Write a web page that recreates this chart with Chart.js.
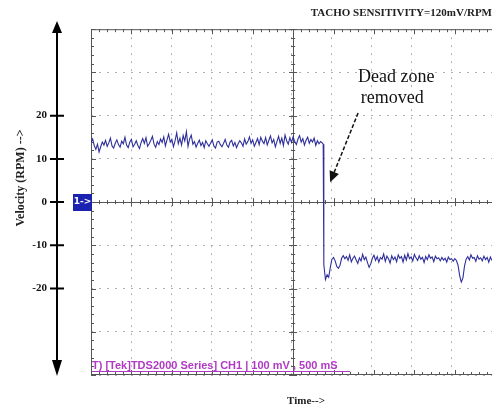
<!doctype html>
<html>

<head>
    <meta charset="UTF-8">
    <title>Tacho velocity</title>
    <script src="https://cdn.jsdelivr.net/npm/chart.js"></script>
    <style>
        body {
            margin: 0;
            background-color: #ffffff;
            overflow: hidden;
        }
    </style>
</head>

<body>
    <canvas id="tacho" width="492" height="411"></canvas>

    <script>
        var passoMs = 20;
        var inicioAlto = 0;
        var inicioBaixo = 2880;

        // velocidade antes da inversao (RPM)
        var rpmAlto = [
            13.8, 14.6, 13.1, 12.2, 13.4, 11.6, 12.8, 13.9, 13.2, 14.3, 12.9, 13.7, 14.8, 13.0, 12.5, 13.6,
            14.4, 13.3, 12.7, 14.1, 13.5, 15.0, 13.2, 12.6, 13.9, 14.5, 12.8, 13.4, 14.2, 13.1, 12.4, 13.8,
            14.7, 13.6, 14.9, 12.9, 13.5, 14.3, 15.2, 13.4, 12.7, 14.0, 13.3, 14.6, 13.8, 15.1, 13.0, 14.4,
            15.7, 13.9, 14.5, 12.8, 14.2, 16.0, 13.5, 14.8, 13.2, 15.4, 14.1, 16.3, 12.9, 14.6, 15.5, 13.4,
            14.0, 12.7, 13.6, 14.3, 13.1, 13.8, 12.6, 14.2, 13.5, 12.9, 13.7, 14.4, 13.0, 12.5, 13.9, 14.1,
            13.3, 12.8, 13.6, 14.5, 13.2, 12.7, 13.9, 14.3, 13.0, 13.8, 12.6, 13.5, 14.2, 13.7, 12.9, 14.6,
            13.4, 14.0, 15.1, 13.6, 14.4, 12.9, 13.8, 14.7, 13.3, 15.0, 14.1, 13.5, 14.9, 13.2, 14.3, 15.3,
            13.7, 14.5, 12.8, 14.0, 15.2, 13.6, 14.8, 13.1, 15.5, 14.2, 13.4, 14.9, 13.8, 15.1, 14.0, 13.3,
            14.6, 15.4, 13.9, 14.7, 13.2, 14.3, 15.0, 13.6, 14.5, 13.9, 14.8, 13.1, 14.2, 13.5, 14.0, 13.7];

        // borda da inversao
        var tempoBorda = [2872];
        var rpmBorda = [13.4];

        // velocidade depois da inversao (RPM)
        var rpmBaixo = [
            -14.5, -17.9, -16.8, -17.4, -15.1, -13.2, -12.8, -13.6, -14.9, -15.3, -14.6, -13.0, -12.4, -13.1, -12.6, -13.5,
            -12.2, -13.8, -13.0, -12.5, -13.4, -14.2, -12.9, -13.6, -12.1, -13.3, -12.7, -14.0, -15.1, -14.3, -13.0, -12.3,
            -13.5, -12.6, -13.9, -12.8, -13.2, -12.0, -13.7, -12.5, -13.1, -14.1, -12.4, -13.3, -12.7, -13.8, -12.2, -13.0,
            -12.6, -13.9, -12.3, -13.4, -11.9, -13.1, -12.7, -13.6, -12.1, -12.9, -13.5, -12.4, -13.2, -12.8, -14.0, -12.6,
            -13.3, -12.2, -13.0, -12.7, -13.8, -12.5, -13.1, -12.9, -13.6, -12.8, -13.4, -13.0, -13.9, -12.7, -13.3, -13.1,
            -13.7, -13.1, -13.5, -14.6, -17.0, -18.5, -17.6, -14.8, -13.2, -12.6, -13.4, -12.2, -13.0, -12.8, -13.7, -12.4,
            -13.2, -12.9, -13.6, -12.5, -13.3, -12.8, -13.9, -12.7, -13.5];

        var rotulosY = [20, 10, 0, -10, -20];

        var anotacao = {
            linhas: ['Dead zone', 'removed'],
            texto: [[3775, 28.9], [3725, 24.0]],
            seta: [[3304, 20.6], [2958, 4.6]]
        };

        var pontos = [];
        rpmAlto.forEach((v, i) => pontos.push({ x: inicioAlto + i * passoMs, y: v }));
        tempoBorda.forEach((t, i) => pontos.push({ x: t, y: rpmBorda[i] }));
        rpmBaixo.forEach((v, i) => pontos.push({ x: inicioBaixo + i * passoMs, y: v }));

        // desenha os detalhes da tela do osciloscopio
        var telaScope = {
            id: 'telaScope',
            beforeDatasetsDraw(chart) {
                var ctx = chart.ctx, a = chart.chartArea;
                var xs = chart.scales.x, ys = chart.scales.y;
                var y0 = ys.getPixelForValue(0), xc = xs.getPixelForValue(2500);
                ctx.save();
                ctx.strokeStyle = '#555';
                ctx.lineWidth = 1;
                ctx.beginPath();
                ctx.moveTo(a.left, a.top + 0.5); ctx.lineTo(a.right, a.top + 0.5);
                ctx.moveTo(a.left, a.bottom - 0.5); ctx.lineTo(a.right, a.bottom - 0.5);
                ctx.moveTo(a.left + 0.5, a.top); ctx.lineTo(a.left + 0.5, a.bottom);
                ctx.moveTo(a.left, Math.round(y0) + 0.5); ctx.lineTo(a.right, Math.round(y0) + 0.5);
                ctx.moveTo(Math.round(xc) + 0.5, a.top); ctx.lineTo(Math.round(xc) + 0.5, a.bottom);
                for (var t = 0; t <= xs.max; t += 100) {
                    var px = Math.round(xs.getPixelForValue(t)) + 0.5;
                    var l = t % 500 == 0 ? 5 : 3;
                    ctx.moveTo(px, a.top); ctx.lineTo(px, a.top + l);
                    ctx.moveTo(px, a.bottom); ctx.lineTo(px, a.bottom - l);
                    ctx.moveTo(px, y0 - l + 1); ctx.lineTo(px, y0 + l - 1);
                }
                for (var v = -40; v <= 40; v += 2) {
                    var py = Math.round(ys.getPixelForValue(v)) + 0.5;
                    var m = v % 10 == 0 ? 5 : 3;
                    ctx.moveTo(a.left, py); ctx.lineTo(a.left + m, py);
                    ctx.moveTo(xc - m + 1, py); ctx.lineTo(xc + m - 1, py);
                }
                ctx.stroke();
                ctx.restore();
            },
            afterDraw(chart) {
                var ctx = chart.ctx, a = chart.chartArea;
                var xs = chart.scales.x, ys = chart.scales.y;
                var y0 = ys.getPixelForValue(0);
                ctx.save();

                // eixo externo com setas
                var ex = 57;
                ctx.strokeStyle = '#000';
                ctx.fillStyle = '#000';
                ctx.lineWidth = 2;
                ctx.beginPath();
                ctx.moveTo(ex, 30); ctx.lineTo(ex, 362);
                rotulosY.forEach(v => {
                    var py = ys.getPixelForValue(v);
                    ctx.moveTo(ex - 7, py); ctx.lineTo(ex + 7, py);
                });
                ctx.stroke();
                ctx.beginPath();
                ctx.moveTo(ex, 21); ctx.lineTo(ex - 5, 33); ctx.lineTo(ex + 5, 33); ctx.closePath();
                ctx.moveTo(ex, 376); ctx.lineTo(ex - 5, 360); ctx.lineTo(ex + 5, 360); ctx.closePath();
                ctx.fill();

                // titulo do eixo y
                ctx.save();
                ctx.translate(21, 178);
                ctx.rotate(-Math.PI / 2);
                ctx.font = 'bold 12px "Liberation Serif"';
                ctx.textAlign = 'center';
                ctx.textBaseline = 'middle';
                ctx.fillStyle = '#222';
                ctx.fillText('Velocity (RPM) -->', 0, 0);
                ctx.restore();

                // marcador do canal 1
                ctx.fillStyle = '#1b22b0';
                ctx.fillRect(73, Math.round(y0) - 8, 19, 17);
                ctx.fillStyle = '#fff';
                ctx.font = 'bold 9px "DejaVu Sans"';
                ctx.textAlign = 'center';
                ctx.textBaseline = 'middle';
                ctx.fillText('1->', 82.5, y0);

                // texto do osciloscopio
                ctx.fillStyle = '#b03ac4';
                ctx.strokeStyle = '#b03ac4';
                ctx.lineWidth = 1;
                ctx.font = 'bold 11px "Liberation Sans"';
                ctx.textAlign = 'left';
                ctx.textBaseline = 'alphabetic';
                ctx.fillText('T) [Tek]TDS2000 Series] CH1 | 100 mV , 500 mS', a.left + 1, a.bottom - 6, 258);
                ctx.beginPath();
                ctx.moveTo(a.left + 1, a.bottom - 3.5); ctx.lineTo(a.left + 259, a.bottom - 3.5);
                ctx.stroke();

                // titulo do eixo x
                ctx.fillStyle = '#222';
                ctx.font = 'bold 11px "Liberation Serif"';
                ctx.textAlign = 'center';
                ctx.textBaseline = 'middle';
                ctx.fillText('Time-->', 306, 401);

                // anotacao
                ctx.font = '18px "Liberation Serif"';
                ctx.fillStyle = '#111';
                anotacao.linhas.forEach((txt, i) => {
                    ctx.fillText(txt, xs.getPixelForValue(anotacao.texto[i][0]), ys.getPixelForValue(anotacao.texto[i][1]));
                });
                var sx = xs.getPixelForValue(anotacao.seta[0][0]), sy = ys.getPixelForValue(anotacao.seta[0][1]);
                var tx = xs.getPixelForValue(anotacao.seta[1][0]), ty = ys.getPixelForValue(anotacao.seta[1][1]);
                var ang = Math.atan2(ty - sy, tx - sx);
                ctx.strokeStyle = '#111';
                ctx.lineWidth = 1.5;
                ctx.setLineDash([4, 2]);
                ctx.beginPath();
                ctx.moveTo(sx, sy);
                ctx.lineTo(tx - 10 * Math.cos(ang), ty - 10 * Math.sin(ang));
                ctx.stroke();
                ctx.setLineDash([]);
                ctx.beginPath();
                ctx.moveTo(tx, ty);
                ctx.lineTo(tx - 11 * Math.cos(ang) + 5 * Math.sin(ang), ty - 11 * Math.sin(ang) - 5 * Math.cos(ang));
                ctx.lineTo(tx - 11 * Math.cos(ang) - 5 * Math.sin(ang), ty - 11 * Math.sin(ang) + 5 * Math.cos(ang));
                ctx.closePath();
                ctx.fill();

                ctx.restore();
            }
        };

        var tacho = new Chart(document.getElementById('tacho').getContext('2d'), {
            type: 'line',
            data: {
                datasets: [{
                    label: 'Velocity',
                    data: pontos,
                    borderColor: '#2f2f9c',
                    borderWidth: 1.1,
                    pointRadius: 0,
                    tension: 0
                }]
            },
            options: {
                responsive: false,
                animation: false,
                layout: { padding: 0 },
                plugins: {
                    legend: { display: false },
                    tooltip: { enabled: false },
                    title: {
                        display: true,
                        text: 'TACHO SENSITIVITY=120mV/RPM',
                        align: 'end',
                        color: '#222',
                        font: { family: '"Liberation Serif"', size: 11, weight: 'bold' },
                        padding: { top: 7, bottom: 9 }
                    }
                },
                scales: {
                    x: {
                        type: 'linear',
                        min: 0,
                        max: 4960,
                        ticks: { display: false, stepSize: 500, includeBounds: false },
                        grid: { color: '#b0b0b0', drawTicks: false },
                        border: { display: false, dash: [2, 6] },
                        afterFit: s => { s.height = 36; }
                    },
                    y: {
                        min: -40,
                        max: 40,
                        ticks: {
                            stepSize: 10,
                            padding: 4,
                            color: '#111',
                            font: { family: '"Liberation Serif"', size: 11, weight: 'bold' },
                            callback: v => rotulosY.includes(v) ? v : ''
                        },
                        grid: { color: '#b0b0b0', drawTicks: true, tickLength: 40, tickColor: 'transparent' },
                        border: { display: false, dash: [2, 6] },
                        afterFit: s => { s.width = 91; }
                    }
                }
            },
            plugins: [telaScope]
        });
    </script>
</body>

</html>
